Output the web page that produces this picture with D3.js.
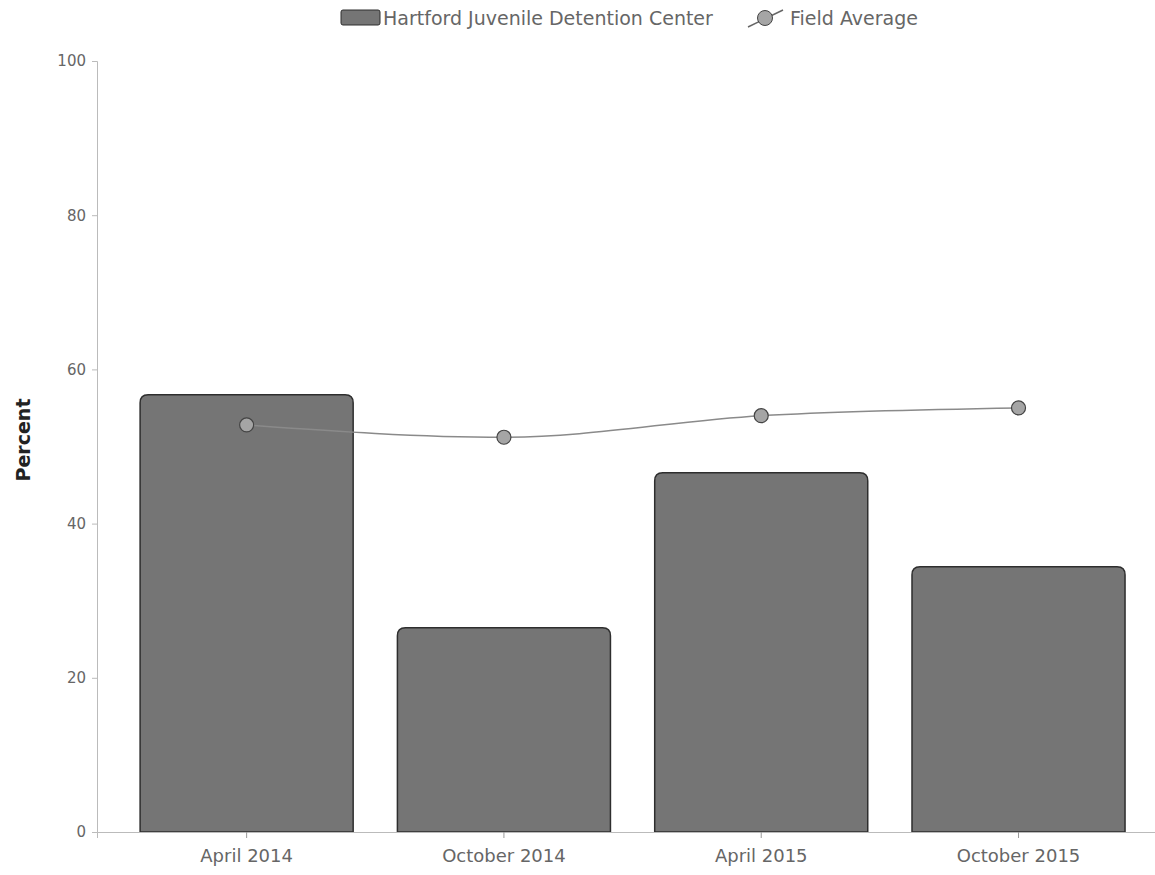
<!DOCTYPE html>
<html><head><meta charset="utf-8">
<script src="https://cdn.jsdelivr.net/npm/d3@7"></script>
<style>body{margin:0;background:#fff}svg{display:block}text{font-family:"DejaVu Sans",Verdana,sans-serif}</style>
</head><body><svg id="c" width="1155" height="875"></svg>
<script>
const categories = ["April 2014", "October 2014", "April 2015", "October 2015"];
const facilityValues = [56.7, 26.5, 46.6, 34.4];
const fieldAverage = [52.8, 51.2, 54.0, 55.0];
const yTicks = [0, 20, 40, 60, 80, 100];
const seriesNames = ["Hartford Juvenile Detention Center", "Field Average"];

const svg = d3.select("#c");
const x = d3.scaleBand().domain(categories).range([97, 1155]).paddingInner(0.172).paddingOuter(0.142).align(0.59);
const y = d3.scaleLinear().domain([0, 100]).range([832, 61]);

// axes
const yAxis = svg.append("g").attr("transform", "translate(97,0)")
  .call(d3.axisLeft(y).tickValues(yTicks).tickSize(5).tickPadding(6));
yAxis.select(".domain").attr("stroke", "#bbb");
yAxis.selectAll(".tick line").attr("stroke", "#bbb");
yAxis.selectAll("text").attr("fill", "#666").style("font-size", "15px").style("font-family", "DejaVu Sans, sans-serif");

// bars
const bw = x.bandwidth(), r = 8;
svg.append("g").selectAll("path").data(categories).join("path")
  .attr("d", (c, i) => {
    const x0 = x(c), x1 = x0 + bw, yt = y(facilityValues[i]), yb = y(0);
    return `M${x0},${yb}V${yt + r}Q${x0},${yt} ${x0 + r},${yt}H${x1 - r}Q${x1},${yt} ${x1},${yt + r}V${yb}Z`;
  })
  .attr("fill", "#757575").attr("stroke", "#2e2e2e").attr("stroke-width", 1.5);

const xAxis = svg.append("g").attr("transform", "translate(0,832)")
  .call(d3.axisBottom(x).tickSize(6).tickPadding(11));
xAxis.select(".domain").attr("stroke", "#bbb");
xAxis.selectAll(".tick line").attr("stroke", "#999");
xAxis.selectAll("text").attr("fill", "#666").style("font-size", "18px").style("font-family", "DejaVu Sans, sans-serif");

// line
const cx = c => x(c) + bw / 2;
const line = d3.line().x((d, i) => cx(categories[i])).y(d => y(d)).curve(d3.curveMonotoneX);
svg.append("path").datum(fieldAverage).attr("d", line)
  .attr("fill", "none").attr("stroke", "#8a8a8a").attr("stroke-width", 1.5);
svg.append("g").selectAll("circle").data(fieldAverage).join("circle")
  .attr("cx", (d, i) => cx(categories[i])).attr("cy", d => y(d)).attr("r", 7)
  .attr("fill", "#a5a5a5").attr("stroke", "#444").attr("stroke-width", 1.2);

// y title
svg.append("text").attr("transform", "translate(30,440) rotate(-90)")
  .attr("text-anchor", "middle").style("font-size", "19px").style("font-weight", "bold")
  .attr("fill", "#222").text("Percent");

// legend
const lg = svg.append("g");
lg.append("rect").attr("x", 341).attr("y", 10).attr("width", 39).attr("height", 15).attr("rx", 2)
  .attr("fill", "#757575").attr("stroke", "#2e2e2e");
lg.append("text").attr("x", 383).attr("y", 25).style("font-size", "19px").attr("fill", "#666").text(seriesNames[0]);
lg.append("line").attr("x1", 748).attr("x2", 783).attr("y1", 27).attr("y2", 10).attr("stroke", "#666").attr("stroke-width", 1.5);
lg.append("circle").attr("cx", 765).attr("cy", 18).attr("r", 7.5).attr("fill", "#a5a5a5").attr("stroke", "#444");
lg.append("text").attr("x", 790).attr("y", 25).style("font-size", "19px").attr("fill", "#666").text(seriesNames[1]);
</script></body></html>
